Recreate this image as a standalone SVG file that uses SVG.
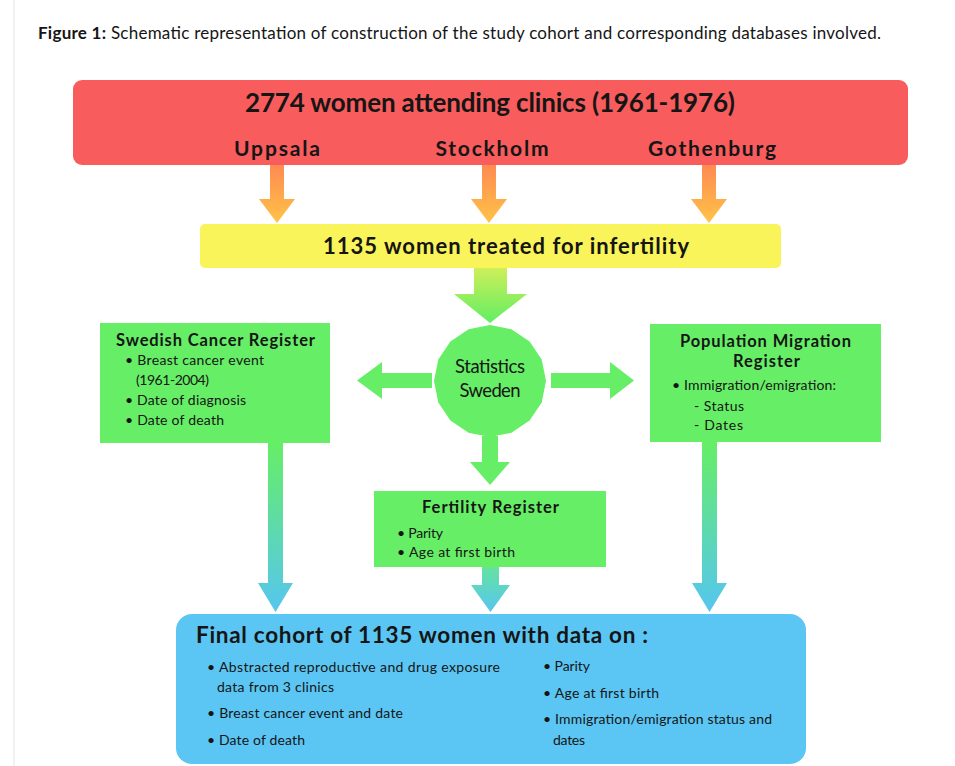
<svg xmlns="http://www.w3.org/2000/svg" width="955" height="766" viewBox="0 0 955 766">
<style>
text{font-family:Lato,"Open Sans","Liberation Sans",sans-serif;fill:#151515}
.b{font-weight:bold}
.h1{font-size:26px;font-weight:bold}
.city{font-size:21px;font-weight:bold}
.h2{font-size:22px;font-weight:bold}
.bt{font-size:16.5px;font-weight:bold}
.t{font-size:14px}
.ss{font-size:18.5px}
.fin{font-size:22.5px;font-weight:bold}
.green{fill:#66ee66}
</style>
<defs>
<linearGradient id="gOr" x1="0" y1="0" x2="0" y2="1"><stop offset="0" stop-color="#ff8a52"/><stop offset="1" stop-color="#ffc347"/></linearGradient>
<linearGradient id="gGr" x1="0" y1="0" x2="0" y2="1"><stop offset="0" stop-color="#cdef5a"/><stop offset="1" stop-color="#62ee62"/></linearGradient>
<linearGradient id="gGB" x1="0" y1="0" x2="0" y2="1"><stop offset="0" stop-color="#66ee66"/><stop offset="1" stop-color="#55c6f0"/></linearGradient>
<linearGradient id="gGB2" x1="0" y1="0" x2="0" y2="1"><stop offset="0" stop-color="#66e2a0"/><stop offset="1" stop-color="#55c6f0"/></linearGradient>
</defs>
<rect width="955" height="766" fill="#ffffff"/>
<line x1="14" y1="0" x2="14" y2="766" stroke="#ececec" stroke-width="1.5"/>
<text x="38" y="39" font-size="17" textLength="843"><tspan class="b">Figure 1:</tspan> Schematic representation of construction of the study cohort and corresponding databases involved.</text>

<g id="connectors">
<path d="M270,165H284V199H295L277,223L259,199H270Z" fill="url(#gOr)"/>
<path d="M482,165H496V199H507L489,223L471,199H482Z" fill="url(#gOr)"/>
<path d="M702,165H716V199H727L709,223L691,199H702Z" fill="url(#gOr)"/>
<path d="M474,268H507V294H527L490,323L454,294H474Z" fill="url(#gGr)"/>
<path d="M432,373V388H382V399L357,380.5L382,362V373Z" fill="#66ee66"/>
<path d="M551,373V388H610V399L634,380.5L610,362V373Z" fill="#66ee66"/>
<path d="M482,436H498V462H510L490,485L470,462H482Z" fill="#66ee66"/>
<path d="M268,443H283V583H293L275.5,612L258,583H268Z" fill="url(#gGB)"/>
<path d="M702,442H717V583H727L709.5,612L692,583H702Z" fill="url(#gGB)"/>
<path d="M482,567H499V585H510L490.5,612L471,585H482Z" fill="url(#gGB2)"/>
</g>

<g id="clinics">
<rect x="73" y="80" width="835" height="85" rx="9" fill="#f85c5c"/>
<text class="h1" x="490" y="112" text-anchor="middle" textLength="490">2774 women attending clinics (1961-1976)</text>
<text class="city" x="277" y="156" text-anchor="middle" textLength="86">Uppsala</text>
<text class="city" x="492" y="156" text-anchor="middle" textLength="113">Stockholm</text>
<text class="city" x="712" y="156" text-anchor="middle" textLength="128">Gothenburg</text>
</g>

<g id="treated">
<rect x="200" y="224" width="581" height="44" rx="5" fill="#f9f45a"/>
<text class="h2" x="506" y="254" text-anchor="middle" textLength="366">1135 women treated for infertility</text>
</g>

<g id="statistics-sweden">
<polygon class="green" points="546,381 541.7,402.4 529.6,420.6 511.4,432.7 490,437 468.6,432.7 450.4,420.6 438.3,402.4 434,381 438.3,359.6 450.4,341.4 468.6,329.3 490,325 511.4,329.3 529.6,341.4 541.7,359.6"/>
<text class="ss" x="490" y="373" text-anchor="middle" textLength="70">Statistics</text>
<text class="ss" x="490" y="397" text-anchor="middle" textLength="61">Sweden</text>
</g>

<g id="cancer-register">
<rect class="green" x="100" y="323" width="230" height="120"/>
<text class="bt" x="215.5" y="346" text-anchor="middle" textLength="199">Swedish Cancer Register</text>
<text class="t" x="125" y="365" textLength="139">• Breast cancer event</text>
<text class="t" x="136" y="385" textLength="73">(1961-2004)</text>
<text class="t" x="125" y="405" textLength="121">• Date of diagnosis</text>
<text class="t" x="125" y="425" textLength="99">• Date of death</text>
</g>

<g id="migration-register">
<rect class="green" x="650" y="324" width="231" height="118"/>
<text class="bt" x="765.5" y="347" text-anchor="middle" textLength="171">Population Migration</text>
<text class="bt" x="766.5" y="367" text-anchor="middle" textLength="67">Register</text>
<text class="t" x="672" y="390" textLength="164">• Immigration/emigration:</text>
<text class="t" x="694" y="411" textLength="50">- Status</text>
<text class="t" x="694" y="430" textLength="49">- Dates</text>
</g>

<g id="fertility-register">
<rect class="green" x="374" y="491" width="232" height="76"/>
<text class="bt" x="490.5" y="513" text-anchor="middle" textLength="137">Fertility Register</text>
<text class="t" x="397" y="538" textLength="46">• Parity</text>
<text class="t" x="397" y="557" textLength="118">• Age at first birth</text>
</g>

<g id="final-cohort">
<rect x="176" y="614" width="630" height="150" rx="16" fill="#5bc6f3"/>
<text class="fin" x="196" y="643" textLength="452">Final cohort of 1135 women with data on :</text>
<text class="t" x="207" y="672" textLength="293">• Abstracted reproductive and drug exposure</text>
<text class="t" x="217" y="692" textLength="117">data from 3 clinics</text>
<text class="t" x="207" y="718" textLength="196">• Breast cancer event and date</text>
<text class="t" x="207" y="745" textLength="98">• Date of death</text>
<text class="t" x="543" y="671" textLength="47">• Parity</text>
<text class="t" x="543" y="698" textLength="116">• Age at first birth</text>
<text class="t" x="543" y="724" textLength="229">• Immigration/emigration status and</text>
<text class="t" x="553" y="745" textLength="32">dates</text>
</g>
</svg>
